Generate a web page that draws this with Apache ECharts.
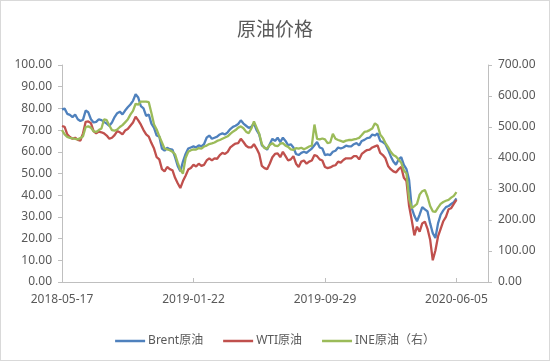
<!DOCTYPE html>
<html><head><meta charset="utf-8">
<script src="https://cdn.jsdelivr.net/npm/echarts@6/dist/echarts.min.js"></script>
<style>html,body{margin:0;padding:0;background:#fff}
#wrap{width:550px;height:361px;box-sizing:border-box;border:1px solid #d9d9d9;}
#c{width:548px;height:359px}</style></head>
<body><div id="wrap"><div id="c"></div></div>
<script>
// Sampled every 5 calendar days starting 2018-05-17
const startDate = '2018-05-17';
const stepDays = 5;
const extraSlots = 12; // empty axis room after last date
const tickLabels = ['2018-05-17', '2019-01-22', '2019-09-29', '2020-06-05'];
const seriesNames = ['Brent原油', 'WTI原油', 'INE原油（右）'];

const brent = [79.6,79.9,77.5,77.0,76.0,77.2,75.0,74.2,74.8,79.0,
78.2,75.0,73.5,73.8,75.0,74.6,73.8,73.0,72.0,73.5,
76.0,77.8,78.5,77.2,79.0,80.5,81.8,83.5,86.5,85.0,
81.0,80.0,76.5,77.2,73.0,71.0,67.5,67.0,61.5,60.5,
61.8,61.2,61.0,57.5,53.5,51.0,55.5,59.0,61.5,62.0,
62.5,62.0,63.0,62.5,63.5,66.5,67.5,66.0,66.5,67.0,
68.0,68.5,68.0,69.0,70.5,71.5,72.0,72.8,74.5,73.0,
72.0,71.0,71.5,73.0,70.0,68.0,63.0,62.0,61.0,63.5,
66.0,65.0,66.5,64.5,66.5,65.0,63.0,63.5,62.0,59.0,
58.5,59.5,60.0,59.5,60.5,61.5,63.0,64.5,62.0,61.5,
58.5,58.8,58.5,60.0,60.5,62.0,61.5,62.0,62.8,62.5,
62.5,63.5,64.0,63.0,65.0,65.5,66.3,66.5,68.0,67.5,
68.5,65.0,64.5,63.5,61.0,58.0,55.5,54.0,56.5,57.5,
54.0,52.0,47.0,34.0,30.5,28.0,31.0,34.5,33.5,32.5,
27.0,22.5,20.3,27.0,31.0,33.0,34.5,35.0,36.0,36.8,
38.5];

const wti = [71.9,71.5,68.0,66.8,66.0,66.5,65.5,65.2,68.5,73.8,
74.0,73.2,69.5,68.5,69.3,69.0,68.5,67.5,66.0,66.5,
67.7,69.5,69.0,68.0,69.8,70.5,72.0,73.5,76.2,74.5,
72.5,70.0,68.0,67.0,64.0,61.5,57.5,56.5,52.0,51.0,
53.0,52.0,51.5,48.0,45.5,43.3,46.5,49.0,51.8,52.5,
54.0,53.2,54.5,53.5,54.0,56.0,57.0,56.0,57.0,56.8,
58.5,59.5,59.0,60.0,62.0,63.0,63.8,64.0,66.0,64.5,
62.8,62.0,62.0,63.5,61.5,59.0,53.5,52.5,52.0,54.5,
57.5,59.0,59.3,57.5,60.0,58.0,56.0,56.5,58.0,54.5,
53.0,55.5,56.0,54.5,55.5,56.0,58.5,58.0,56.5,56.0,
53.0,52.5,52.8,53.5,53.8,55.5,55.0,56.2,57.0,57.0,
57.0,58.0,58.0,56.5,59.0,60.0,60.8,61.0,62.0,62.5,
63.0,59.5,58.5,57.0,53.5,52.0,51.0,50.5,52.0,53.0,
48.0,46.5,35.0,28.5,21.5,25.5,23.2,27.0,27.8,24.5,
19.5,10.0,14.5,21.0,24.5,28.0,30.0,33.5,34.0,36.0,
37.8];

const ine = [490,476,468,465,463,462,460,464,470,500,
502,498,486,484,490,495,525,522,505,490,
488,492,500,506,515,524,540,552,575,572,
582,582,582,580,545,508,492,470,450,430,
428,425,420,412,385,362,350,400,420,425,
428,427,432,430,437,440,445,447,450,455,
458,462,466,470,478,485,490,498,502,496,
485,480,495,518,498,478,445,432,430,442,
448,440,438,446,448,440,436,428,426,432,
430,433,428,432,437,440,508,462,460,463,
460,448,450,478,462,458,455,452,456,458,
458,460,462,465,474,484,486,490,495,512,
505,476,465,448,435,420,410,405,395,385,
360,350,268,238,245,252,282,293,297,275,
245,228,226,240,252,258,262,265,272,278,
290];

function fmt(d) {
  const y = d.getUTCFullYear(), m = String(d.getUTCMonth() + 1).padStart(2, '0'), dd = String(d.getUTCDate()).padStart(2, '0');
  return y + '-' + m + '-' + dd;
}
const categories = [];
const t0 = Date.parse(startDate + 'T00:00:00Z');
for (let i = 0; i < brent.length + extraSlots; i++) {
  categories.push(fmt(new Date(t0 + i * stepDays * 86400000)));
}
const labelSet = new Set(tickLabels);

const font = '"Noto Sans", "Noto Sans CJK SC", sans-serif';
const txt = '#595959';
const axisGray = '#bfbfbf';

const chart = echarts.init(document.getElementById('c'), null, {renderer: 'canvas'});
chart.setOption({
  animation: false,
  backgroundColor: '#fff',
  title: {
    text: '原油价格', left: 'center', top: 15,
    textStyle: {fontFamily: font, fontSize: 19, fontWeight: 'normal', color: txt}
  },
  legend: {
    bottom: 8, left: 'center', itemWidth: 30, itemHeight: 2.5, itemGap: 20, icon: 'rect',
    textStyle: {fontFamily: font, fontSize: 12, color: txt, padding: [0, 0, 0, -2]},
    data: seriesNames
  },
  grid: {left: 61, right: 61, top: 64, bottom: 78, containLabel: false},
  xAxis: {
    type: 'category', data: categories, boundaryGap: false,
    axisLine: {lineStyle: {color: axisGray, width: 1}},
    axisTick: {show: true, inside: true, length: 4, lineStyle: {color: axisGray},
      interval: (i, v) => labelSet.has(v)},
    axisLabel: {interval: (i, v) => labelSet.has(v), margin: 12,
      fontFamily: font, fontSize: 12, color: txt},
    splitLine: {show: false}
  },
  yAxis: [
    {type: 'value', min: 0, max: 100, interval: 10,
      axisLine: {show: true, lineStyle: {color: axisGray}},
      axisTick: {show: true, length: 4, lineStyle: {color: axisGray}},
      axisLabel: {formatter: v => v.toFixed(2), margin: 10, fontFamily: font, fontSize: 12, color: txt},
      splitLine: {show: false}},
    {type: 'value', min: 0, max: 700, interval: 100, position: 'right',
      axisLine: {show: true, lineStyle: {color: axisGray}},
      axisTick: {show: true, length: 4, lineStyle: {color: axisGray}},
      axisLabel: {formatter: v => v.toFixed(2), margin: 10, fontFamily: font, fontSize: 12, color: txt},
      splitLine: {show: false}}
  ],
  series: [
    {name: seriesNames[0], type: 'line', data: brent, yAxisIndex: 0, showSymbol: false,
      lineStyle: {width: 2.3, color: '#4f81bd'}, itemStyle: {color: '#4f81bd'}},
    {name: seriesNames[1], type: 'line', data: wti, yAxisIndex: 0, showSymbol: false,
      lineStyle: {width: 2.3, color: '#c0504d'}, itemStyle: {color: '#c0504d'}},
    {name: seriesNames[2], type: 'line', data: ine, yAxisIndex: 1, showSymbol: false,
      lineStyle: {width: 2.3, color: '#9bbb59'}, itemStyle: {color: '#9bbb59'}}
  ]
});
</script>
</body></html>
